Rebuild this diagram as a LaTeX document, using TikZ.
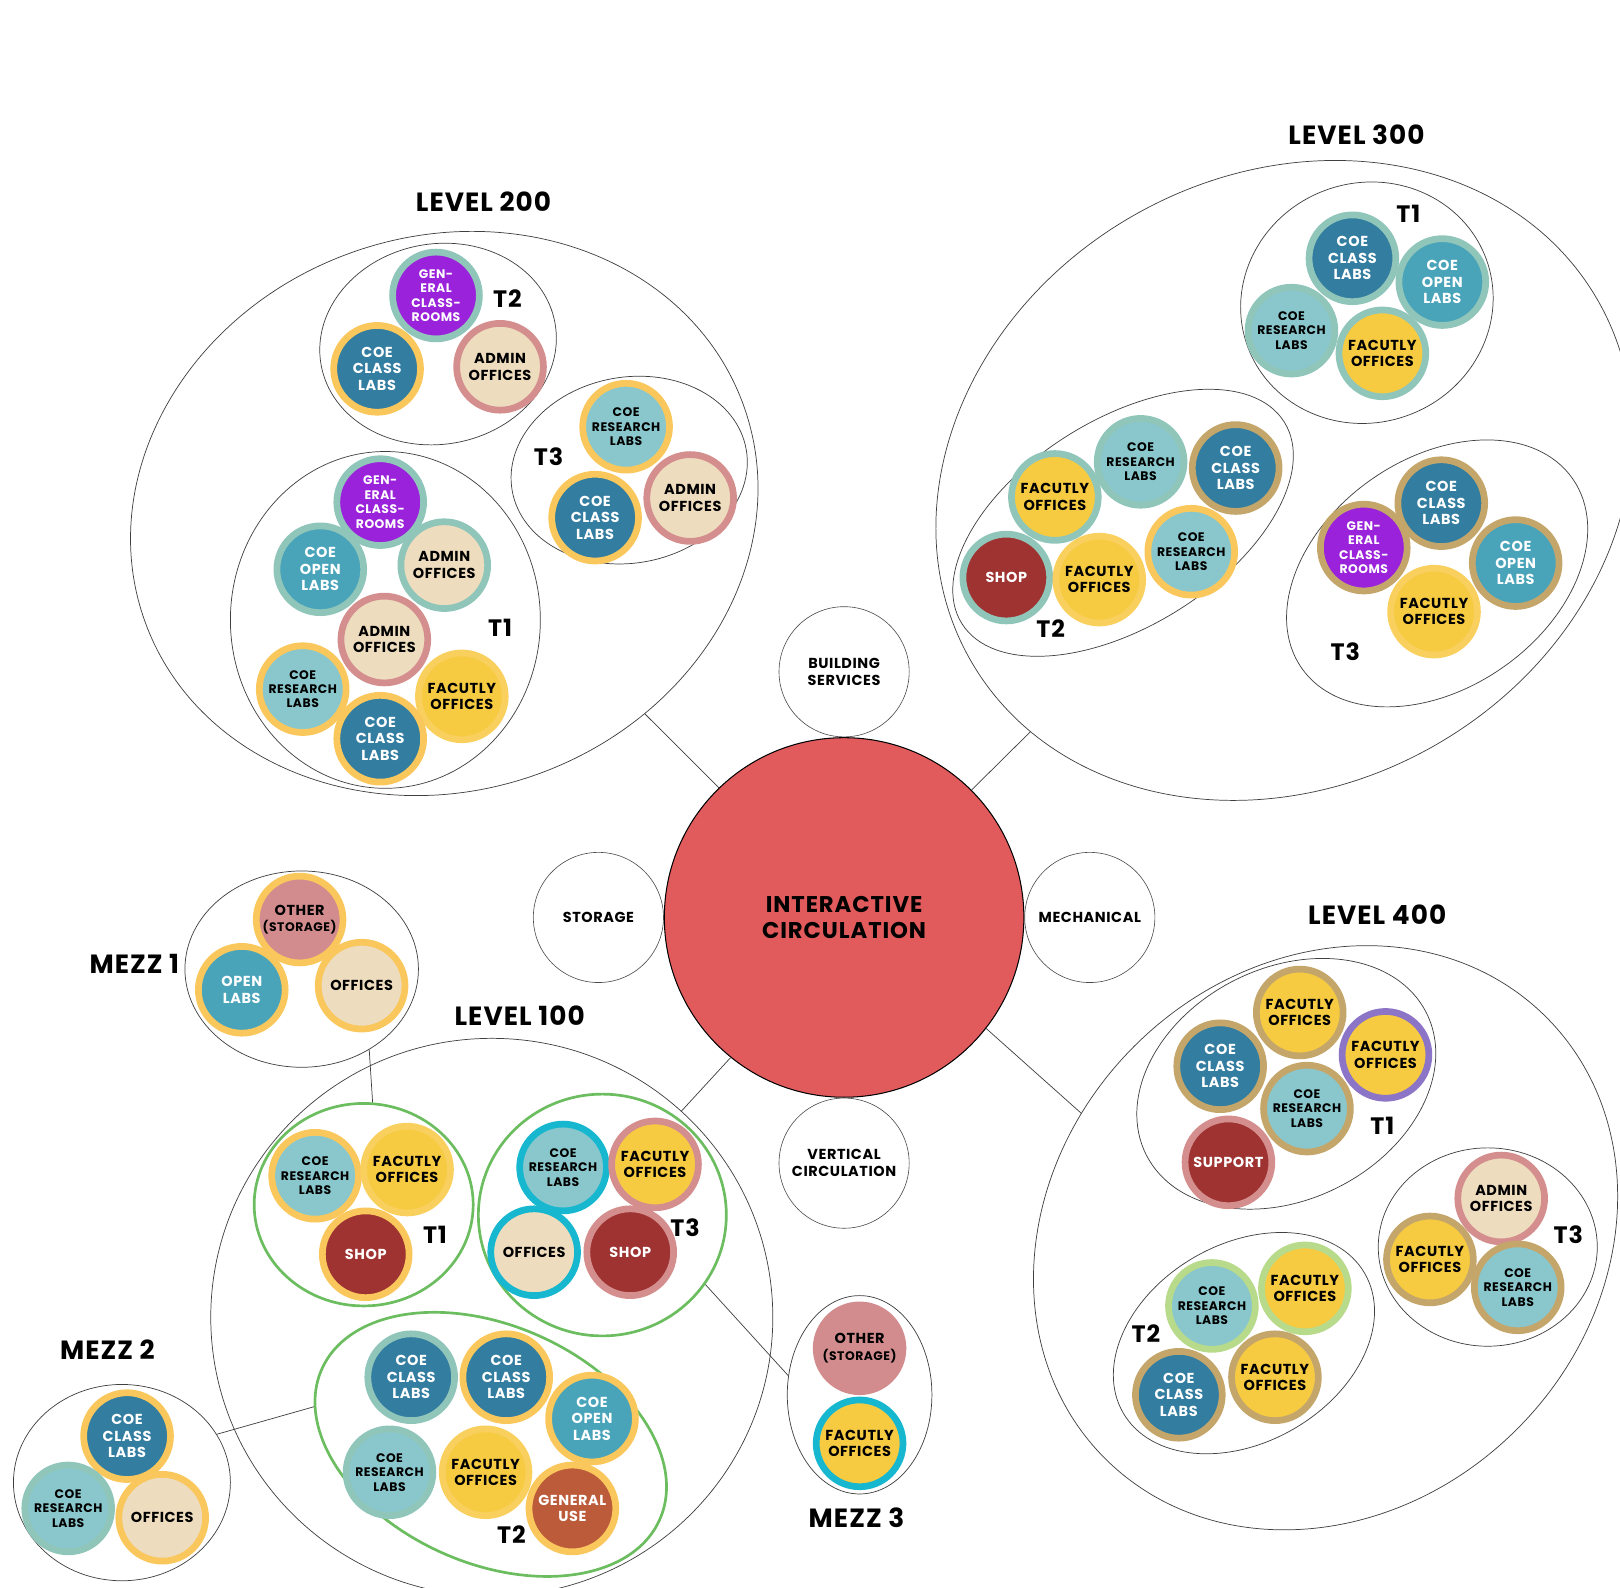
\documentclass[tikz,border=0pt]{standalone}
\usepackage{fontspec}
\setmainfont{Poppins}[LetterSpace=4]
\usepackage{tikz}
\usetikzlibrary{shapes.geometric,positioning}

\definecolor{classblue}{HTML}{337DA0}
\definecolor{openblue}{HTML}{49A4BA}
\definecolor{resteal}{HTML}{89C7CC}
\definecolor{genpurple}{HTML}{9A22DA}
\definecolor{beige}{HTML}{EEDCBE}
\definecolor{facyellow}{HTML}{F6CB42}
\definecolor{shopred}{HTML}{9E3331}
\definecolor{genorange}{HTML}{BC5B3A}
\definecolor{otherpink}{HTML}{D38C8E}
\definecolor{circred}{HTML}{E15A5C}
\definecolor{rimyellow}{HTML}{F9C75B}
\definecolor{rimlight}{HTML}{F9CF5E}
\definecolor{rimsage}{HTML}{90C5B9}
\definecolor{rimpink}{HTML}{D48E8E}
\definecolor{rimtan}{HTML}{C4A66B}
\definecolor{rimcyan}{HTML}{17B7CF}
\definecolor{rimviolet}{HTML}{8C74C6}
\definecolor{rimlime}{HTML}{B8DA8B}
\definecolor{groupgreen}{HTML}{6CBD5F}

\newcommand\roomfont{\bfseries\fontsize{14}{16}\selectfont}
\newcommand\finefont{\bfseries\fontsize{12}{14}\selectfont}
\newcommand\tagfont{\bfseries\fontsize{23}{24}\selectfont}
\newcommand\titlefont{\bfseries\fontsize{25.5}{26}\selectfont}
\newcommand\hubfont{\bfseries\fontsize{22}{25}\selectfont}
\newcommand\servicefont{\bfseries\fontsize{14}{16}\selectfont}

\begin{document}
\begin{tikzpicture}[x=1pt, y=-1pt,
    room/.style={circle, line width=6.5pt, minimum size=84pt, inner sep=0pt, align=center, font=\roomfont},
    finetext/.style={font=\finefont},
    classlab/.style={room, fill=classblue, draw=#1, text=white},
    openlab/.style={room, fill=openblue, draw=#1, text=white},
    reslab/.style={room, fill=resteal, draw=#1, finetext},
    faculty/.style={room, fill=facyellow, draw=#1},
    admin/.style={room, fill=beige, draw=#1},
    general/.style={room, fill=genpurple, draw=#1, text=white, finetext},
    shop/.style={room, fill=shopred, draw=#1, text=white},
    genuse/.style={room, fill=genorange, draw=#1, text=white},
    other/.style={room, fill=otherpink, draw=#1},
    group/.style={ellipse, draw=black!75, line width=0.7pt, inner sep=0pt},
    greengroup/.style={ellipse, draw=groupgreen, line width=2.6pt, inner sep=0pt},
    service/.style={circle, draw=black!70, line width=0.6pt, minimum size=126pt, inner sep=0pt, align=center, font=\servicefont},
    hub/.style={circle, draw, fill=circred, line width=1pt, minimum size=348pt, inner sep=0pt, align=center, font=\hubfont},
    tag/.style={font=\tagfont, inner sep=0pt},
    title/.style={font=\titlefont, inner sep=0pt},
    link/.style={draw=black!75, line width=0.7pt}
]
  \useasboundingbox (0,0) rectangle (1568,1537);

  % Centre and services
  \node[hub] (central) at (817,888) {INTERACTIVE\\CIRCULATION};
  \node[service, above=0pt of central] (building) {BUILDING\\SERVICES};
  \node[service, left=0pt of central] (storage) {STORAGE};
  \node[service, right=0pt of central] (mechanical) {MECHANICAL};
  \node[service, below=0pt of central] (vertical) {VERTICAL\\CIRCULATION};

  % Level outlines
  \node[group, minimum width=616pt, minimum height=536pt, rotate=20] (l200) at (430,497) {};
  \node[group, minimum width=700pt, minimum height=590pt, rotate=30] (l300) at (1243,465) {};
  \node[group, minimum width=604pt, minimum height=524pt, rotate=45] (l400) at (1283,1198) {};
  \node[group, minimum width=544pt, minimum height=540pt] (l100) at (476,1275) {};
  \node[group, minimum width=226pt, minimum height=190pt] (mezz1) at (292,938) {};
  \node[group, minimum width=210pt, minimum height=190pt] (mezz2) at (118,1435) {};
  \node[group, minimum width=140pt, minimum height=192pt] (mezz3) at (832,1350) {};

  % Tower outlines
  \node[group, minimum width=230pt, minimum height=194pt, rotate=10] (l2t2) at (424,333) {};
  \node[group, minimum width=230pt, minimum height=180pt, rotate=10] (l2t3) at (609,455) {};
  \node[group, minimum width=300pt, minimum height=326pt] (l2t1) at (373,600) {};
  \node[group, minimum width=246pt, minimum height=232pt, rotate=20] (l3t1) at (1323,293) {};
  \node[group, minimum width=368pt, minimum height=200pt, rotate=32] (l3t2) at (1087,506) {};
  \node[group, minimum width=320pt, minimum height=222pt, rotate=35] (l3t3) at (1391,555) {};
  \node[group, minimum width=304pt, minimum height=224pt, rotate=27] (l4t1) at (1245,1049) {};
  \node[group, minimum width=270pt, minimum height=192pt, rotate=30] (l4t2) at (1204,1300) {};
  \node[group, minimum width=212pt, minimum height=192pt] (l4t3) at (1440,1207) {};
  \node[greengroup, minimum width=212pt, minimum height=196pt] (l1t1) at (352,1166) {};
  \node[greengroup, minimum width=240pt, minimum height=234pt] (l1t3) at (583,1176) {};
  \node[greengroup, minimum width=358pt, minimum height=230pt, rotate=-24] (l1t2) at (475,1398) {};

  % Connectors
  \draw[link] (central.134) -- (l200);
  \draw[link] (central.45) -- (l300);
  \draw[link] (central.-38) -- (l400.108);
  \draw[link] (central.-129) -- (l100);
  \draw[link] (mezz1.-50) -- (l1t1.85);
  \draw[link] (l1t3.-34) -- (mezz3.165);
  \draw[link] (l1t2.192) -- (mezz2.27);

  % Titles
  \node[title] (t200) at (468,195) {LEVEL 200};
  \node[title] (t300) at (1313,130) {LEVEL 300};
  \node[title] (t400) at (1333,885) {LEVEL 400};
  \node[title] (t100) at (503,983) {LEVEL 100};
  \node[title] (tm1) at (130,933) {MEZZ 1};
  \node[title] (tm2) at (104,1306) {MEZZ 2};
  \node[title] (tm3) at (829,1469) {MEZZ 3};

  % Level 200
  \node[general=rimsage] (l2t2_gen) at (422,286) {GEN-\\ERAL\\CLASS-\\ROOMS};
  \node[classlab=rimyellow] (l2t2_class) at (365,357) {COE\\CLASS\\LABS};
  \node[admin=rimpink] (l2t2_admin) at (484,355) {ADMIN\\OFFICES};
  \node[tag] (l2t2_tag) at (491,289) {T2};

  \node[reslab=rimyellow] (l2t3_res) at (606,413) {COE\\RESEARCH\\LABS};
  \node[classlab=rimyellow] (l2t3_class) at (576,501) {COE\\CLASS\\LABS};
  \node[admin=rimpink] (l2t3_admin) at (668,482) {ADMIN\\OFFICES};
  \node[tag] (l2t3_tag) at (531,442) {T3};

  \node[general=rimsage] (l2t1_gen) at (368,486) {GEN-\\ERAL\\CLASS-\\ROOMS};
  \node[openlab=rimsage] (l2t1_open) at (310,551) {COE\\OPEN\\LABS};
  \node[admin=rimsage] (l2t1_admin_a) at (430,547) {ADMIN\\OFFICES};
  \node[admin=rimpink] (l2t1_admin_b) at (372,619) {ADMIN\\OFFICES};
  \node[reslab=rimyellow] (l2t1_res) at (293,667) {COE\\RESEARCH\\LABS};
  \node[faculty=rimlight] (l2t1_fac) at (447,674) {FACUTLY\\OFFICES};
  \node[classlab=rimyellow] (l2t1_class) at (368,715) {COE\\CLASS\\LABS};
  \node[tag] (l2t1_tag) at (484,608) {T1};

  % Level 300
  \node[classlab=rimsage] (l3t1_class) at (1309,250) {COE\\CLASS\\LABS};
  \node[openlab=rimsage] (l3t1_open) at (1396,273) {COE\\OPEN\\LABS};
  \node[reslab=rimsage] (l3t1_res) at (1250,320) {COE\\RESEARCH\\LABS};
  \node[faculty=rimsage] (l3t1_fac) at (1338,342) {FACUTLY\\OFFICES};
  \node[tag] (l3t1_tag) at (1363,207) {T1};

  \node[faculty=rimsage] (l3t2_fac_a) at (1021,481) {FACUTLY\\OFFICES};
  \node[reslab=rimsage] (l3t2_res_a) at (1104,447) {COE\\RESEARCH\\LABS};
  \node[classlab=rimtan] (l3t2_class) at (1196,453) {COE\\CLASS\\LABS};
  \node[shop=rimsage] (l3t2_shop) at (974,559) {SHOP};
  \node[faculty=rimlight] (l3t2_fac_b) at (1064,561) {FACUTLY\\OFFICES};
  \node[reslab=rimyellow] (l3t2_res_b) at (1153,534) {COE\\RESEARCH\\LABS};
  \node[tag] (l3t2_tag) at (1017,608) {T2};

  \node[classlab=rimtan] (l3t3_class) at (1395,487) {COE\\CLASS\\LABS};
  \node[general=rimtan] (l3t3_gen) at (1320,530) {GEN-\\ERAL\\CLASS-\\ROOMS};
  \node[openlab=rimtan] (l3t3_open) at (1467,545) {COE\\OPEN\\LABS};
  \node[faculty=rimlight] (l3t3_fac) at (1388,592) {FACUTLY\\OFFICES};
  \node[tag] (l3t3_tag) at (1302,631) {T3};

  % Level 400
  \node[faculty=rimtan] (l4t1_fac_a) at (1258,980) {FACUTLY\\OFFICES};
  \node[classlab=rimtan] (l4t1_class) at (1181,1032) {COE\\CLASS\\LABS};
  \node[faculty=rimviolet] (l4t1_fac_b) at (1341,1021) {FACUTLY\\OFFICES};
  \node[reslab=rimtan] (l4t1_res) at (1265,1073) {COE\\RESEARCH\\LABS};
  \node[shop=rimpink] (l4t1_support) at (1189,1125) {SUPPORT};
  \node[tag] (l4t1_tag) at (1338,1090) {T1};

  \node[reslab=rimlime] (l4t2_res) at (1173,1264) {COE\\RESEARCH\\LABS};
  \node[faculty=rimlime] (l4t2_fac_a) at (1263,1247) {FACUTLY\\OFFICES};
  \node[classlab=rimtan] (l4t2_class) at (1141,1350) {COE\\CLASS\\LABS};
  \node[faculty=rimtan] (l4t2_fac_b) at (1234,1333) {FACUTLY\\OFFICES};
  \node[tag] (l4t2_tag) at (1109,1291) {T2};

  \node[admin=rimpink] (l4t3_admin) at (1453,1160) {ADMIN\\OFFICES};
  \node[faculty=rimtan] (l4t3_fac) at (1384,1219) {FACUTLY\\OFFICES};
  \node[reslab=rimtan] (l4t3_res) at (1469,1246) {COE\\RESEARCH\\LABS};
  \node[tag] (l4t3_tag) at (1518,1195) {T3};

  % Level 100
  \node[reslab=rimyellow] (l1t1_res) at (305,1138) {COE\\RESEARCH\\LABS};
  \node[faculty=rimlight] (l1t1_fac) at (394,1132) {FACUTLY\\OFFICES};
  \node[shop=rimyellow] (l1t1_shop) at (354,1214) {SHOP};
  \node[tag] (l1t1_tag) at (421,1195) {T1};

  \node[reslab=rimcyan] (l1t3_res) at (545,1130) {COE\\RESEARCH\\LABS};
  \node[faculty=rimpink] (l1t3_fac) at (634,1127) {FACUTLY\\OFFICES};
  \node[admin=rimcyan] (l1t3_off) at (517,1212) {OFFICES};
  \node[shop=rimpink] (l1t3_shop) at (610,1212) {SHOP};
  \node[tag] (l1t3_tag) at (663,1188) {T3};

  \node[classlab=rimsage] (l1t2_class_a) at (398,1333) {COE\\CLASS\\LABS};
  \node[classlab=rimyellow] (l1t2_class_b) at (490,1333) {COE\\CLASS\\LABS};
  \node[openlab=rimyellow] (l1t2_open) at (573,1373) {COE\\OPEN\\LABS};
  \node[reslab=rimsage] (l1t2_res) at (377,1425) {COE\\RESEARCH\\LABS};
  \node[faculty=rimlight] (l1t2_fac) at (470,1425) {FACUTLY\\OFFICES};
  \node[genuse=rimyellow] (l1t2_gen) at (554,1460) {GENERAL\\USE};
  \node[tag] (l1t2_tag) at (495,1485) {T2};

  % Mezzanines
  \node[other=rimyellow] (m1_other) at (290,890) {OTHER\\{\finefont (STORAGE)}};
  \node[openlab=rimyellow] (m1_open) at (234,958) {OPEN\\LABS};
  \node[admin=rimyellow] (m1_off) at (350,954) {OFFICES};

  \node[classlab=rimyellow] (m2_class) at (123,1390) {COE\\CLASS\\LABS};
  \node[reslab=rimsage] (m2_res) at (66,1460) {COE\\RESEARCH\\LABS};
  \node[admin=rimyellow] (m2_off) at (157,1469) {OFFICES};

  \node[other=otherpink] (m3_other) at (832,1305) {OTHER\\{\finefont (STORAGE)}};
  \node[faculty=rimcyan] (m3_fac) at (832,1397) {FACUTLY\\OFFICES};

\end{tikzpicture}
\end{document}
